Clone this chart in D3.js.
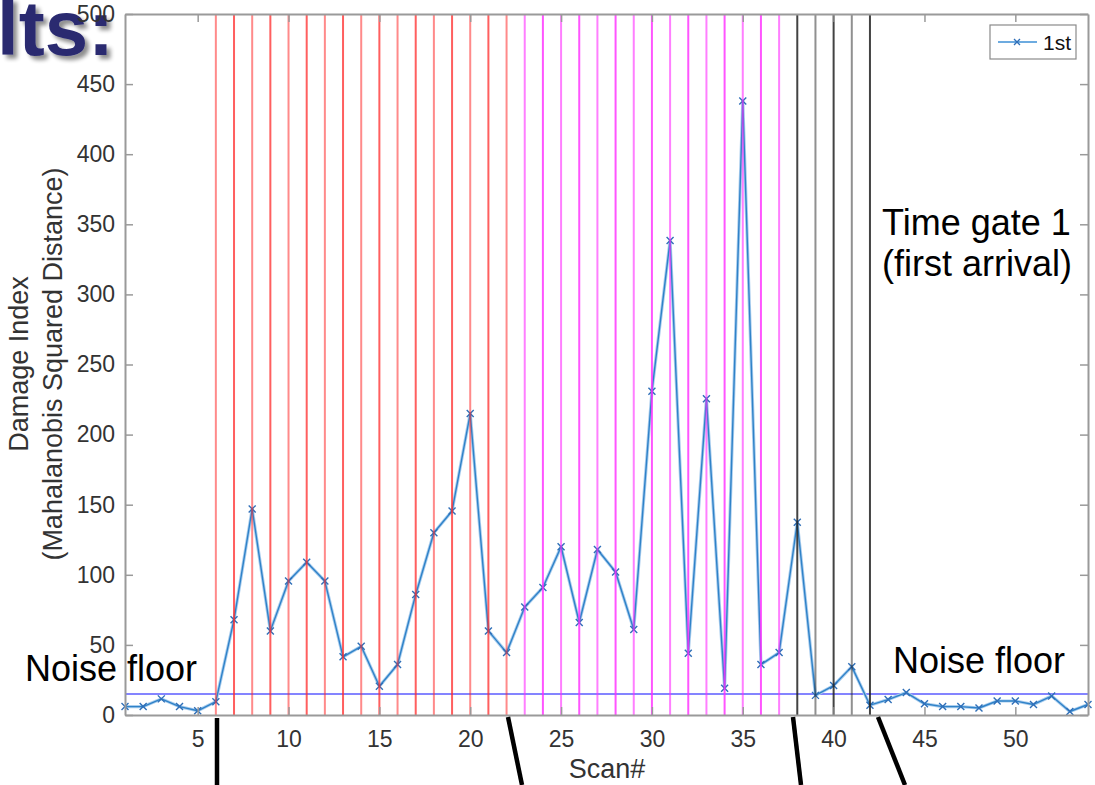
<!DOCTYPE html>
<html><head><meta charset="utf-8">
<script src="https://cdn.jsdelivr.net/npm/d3@7"></script>
<style>
html,body{margin:0;padding:0;background:#fff;}
svg{display:block;font-family:"Liberation Sans",Arial,Helvetica,sans-serif;}
</style></head>
<body>
<svg id="c" width="1095" height="785"></svg>
<script>
// ---- data ----
const scans = d3.range(1, 55);
const damageIndex = [6, 6, 11.5, 6, 3, 9.5, 68, 147, 60, 95.5, 109, 95.5, 41.5, 49, 20.5, 36, 86, 130, 145.5, 215,
  60, 44.5, 77, 91, 120, 66, 118, 102, 61, 231, 338.5, 44, 225.5, 19, 438, 36, 44.5, 137.5, 14, 21,
  34.5, 7, 11, 16, 8, 6, 6, 5, 10, 10, 7.5, 13.5, 2.5, 7.5];
const noiseFloor = 15;
const redScans = d3.range(6, 23);      // 6..22
const magentaScans = d3.range(23, 38); // 23..37
const blackScans = d3.range(38, 43);   // 38..42
const xTicks = [5, 10, 15, 20, 25, 30, 35, 40, 45, 50];
const yTicks = [0, 50, 100, 150, 200, 250, 300, 350, 400, 450, 500];
const seriesName = "1st";

// ---- layout ----
const svg = d3.select("#c");
const L = 125, R = 1088, T = 14, B = 715;
const x = d3.scaleLinear().domain([1, 54]).range([L, R]);
const y = d3.scaleLinear().domain([0, 500]).range([B, T]);

// title fragment (cut-off slide title)
const defs = svg.append("defs");
const f = defs.append("filter").attr("id", "sh").attr("x", "-20%").attr("y", "-20%").attr("width", "150%").attr("height", "150%");
f.append("feGaussianBlur").attr("in", "SourceAlpha").attr("stdDeviation", 2).attr("result", "b");
f.append("feOffset").attr("in", "b").attr("dx", 4).attr("dy", 4).attr("result", "o");
f.append("feComponentTransfer").attr("in", "o").attr("result", "o2")
  .append("feFuncA").attr("type", "linear").attr("slope", 0.45);
const fm = f.append("feMerge");
fm.append("feMergeNode").attr("in", "o2");
fm.append("feMergeNode").attr("in", "SourceGraphic");
svg.append("text").attr("x", 114).attr("y", 55).attr("text-anchor", "end")
  .attr("font-size", 78).attr("font-weight", "bold").attr("fill", "#2a2a70")
  .attr("filter", "url(#sh)").text("Results:");

// plot background
svg.append("rect").attr("x", L).attr("y", T).attr("width", R - L).attr("height", B - T).attr("fill", "#fff");

// noise floor line
svg.append("line").attr("x1", L).attr("x2", R).attr("y1", y(noiseFloor)).attr("y2", y(noiseFloor))
  .attr("stroke", "#5b5bff").attr("stroke-width", 1.5);

// data line
const line = d3.line().x((d, i) => x(scans[i])).y(d => y(d));
svg.append("path").datum(damageIndex).attr("d", line).attr("fill", "none")
  .attr("stroke", "#a9cdee").attr("stroke-width", 3.2).attr("stroke-linejoin", "round");
svg.append("path").datum(damageIndex).attr("d", line).attr("fill", "none")
  .attr("stroke", "#2f82c8").attr("stroke-width", 1.4).attr("stroke-linejoin", "round");
const m = 3.5;
svg.append("g").selectAll("path").data(damageIndex).join("path")
  .attr("d", (d, i) => { const cx = x(scans[i]), cy = y(d);
    return `M${cx - m},${cy - m}L${cx + m},${cy + m}M${cx - m},${cy + m}L${cx + m},${cy - m}`; })
  .attr("stroke", "#2f6fb8").attr("stroke-width", 1.4).attr("fill", "none");

// vertical marker lines
function vlines(arr, color, ops) {
  svg.append("g").selectAll("line").data(arr).join("line")
    .attr("x1", d => x(d)).attr("x2", d => x(d)).attr("y1", T).attr("y2", B)
    .attr("stroke", color).attr("stroke-width", 2)
    .attr("stroke-opacity", (d, i) => ops[i % 2]);
}
vlines(redScans, "#ff2a2a", [0.55, 0.75]);
vlines(magentaScans, "#ff2aff", [0.6, 0.8]);
vlines(blackScans, "#222", [0.85, 0.5]);

// axes
const axCol = "#9a9a9a", txtCol = "#333";
const gx = svg.append("g").attr("transform", `translate(0,${B})`)
  .call(d3.axisBottom(x).tickValues(xTicks).tickFormat(d3.format("d")).tickSize(-8).tickSizeOuter(0).tickPadding(16));
const gy = svg.append("g").attr("transform", `translate(${L},0)`)
  .call(d3.axisLeft(y).tickValues(yTicks).tickFormat(d3.format("d")).tickSize(-8).tickSizeOuter(0).tickPadding(10));
const gxt = svg.append("g").attr("transform", `translate(0,${T})`)
  .call(d3.axisTop(x).tickValues(xTicks).tickFormat("").tickSize(-8).tickSizeOuter(0));
const gyr = svg.append("g").attr("transform", `translate(${R},0)`)
  .call(d3.axisRight(y).tickValues(yTicks).tickFormat("").tickSize(-8).tickSizeOuter(0));
[gx, gy, gxt, gyr].forEach(g => {
  g.select(".domain").attr("stroke", axCol).attr("stroke-width", 2);
  g.selectAll(".tick line").attr("stroke", axCol).attr("stroke-width", 1.5);
  g.selectAll(".tick text").attr("fill", txtCol).attr("font-size", 23)
    .attr("font-family", "Liberation Sans, Arial, sans-serif");
});

// axis labels
svg.append("text").attr("x", 607).attr("y", 778).attr("text-anchor", "middle")
  .attr("font-size", 27).attr("fill", txtCol).text("Scan#");
const yl = svg.append("text").attr("transform", `translate(0,364) rotate(-90)`)
  .attr("text-anchor", "middle").attr("font-size", 27).attr("fill", txtCol);
yl.append("tspan").attr("x", 0).attr("y", 28).text("Damage Index");
yl.append("tspan").attr("x", 0).attr("y", 62).text("(Mahalanobis Squared Distance)");

// legend
const lg = svg.append("g");
lg.append("rect").attr("x", 990).attr("y", 25).attr("width", 86).attr("height", 34)
  .attr("fill", "#fff").attr("stroke", "#8a8a8a").attr("stroke-width", 1.2);
lg.append("line").attr("x1", 998).attr("x2", 1037).attr("y1", 42).attr("y2", 42)
  .attr("stroke", "#3d8fd6").attr("stroke-width", 1.5);
lg.append("path").attr("d", `M${1017 - 3},${42 - 3}L${1017 + 3},${42 + 3}M${1017 - 3},${42 + 3}L${1017 + 3},${42 - 3}`)
  .attr("stroke", "#2f6fb8").attr("stroke-width", 1.3);
lg.append("text").attr("x", 1043).attr("y", 50).attr("font-size", 21).attr("fill", "#111").text(seriesName);

// annotations
svg.append("text").attr("x", 882).attr("y", 235).attr("font-size", 36).attr("fill", "#000").text("Time gate 1");
svg.append("text").attr("x", 882).attr("y", 276).attr("font-size", 36).attr("fill", "#000").text("(first arrival)");
svg.append("text").attr("x", 25).attr("y", 681).attr("font-size", 36).attr("fill", "#000").text("Noise floor");
svg.append("text").attr("x", 893).attr("y", 673).attr("font-size", 36).attr("fill", "#000").text("Noise floor");

// bracket strokes below axis
const strokes = [[217, 718, 217, 785], [508, 717, 522, 785], [793, 717, 801, 785], [878, 717, 905, 785]];
svg.append("g").selectAll("line").data(strokes).join("line")
  .attr("x1", d => d[0]).attr("y1", d => d[1]).attr("x2", d => d[2]).attr("y2", d => d[3])
  .attr("stroke", "#000").attr("stroke-width", 4.5);
</script>
</body></html>
